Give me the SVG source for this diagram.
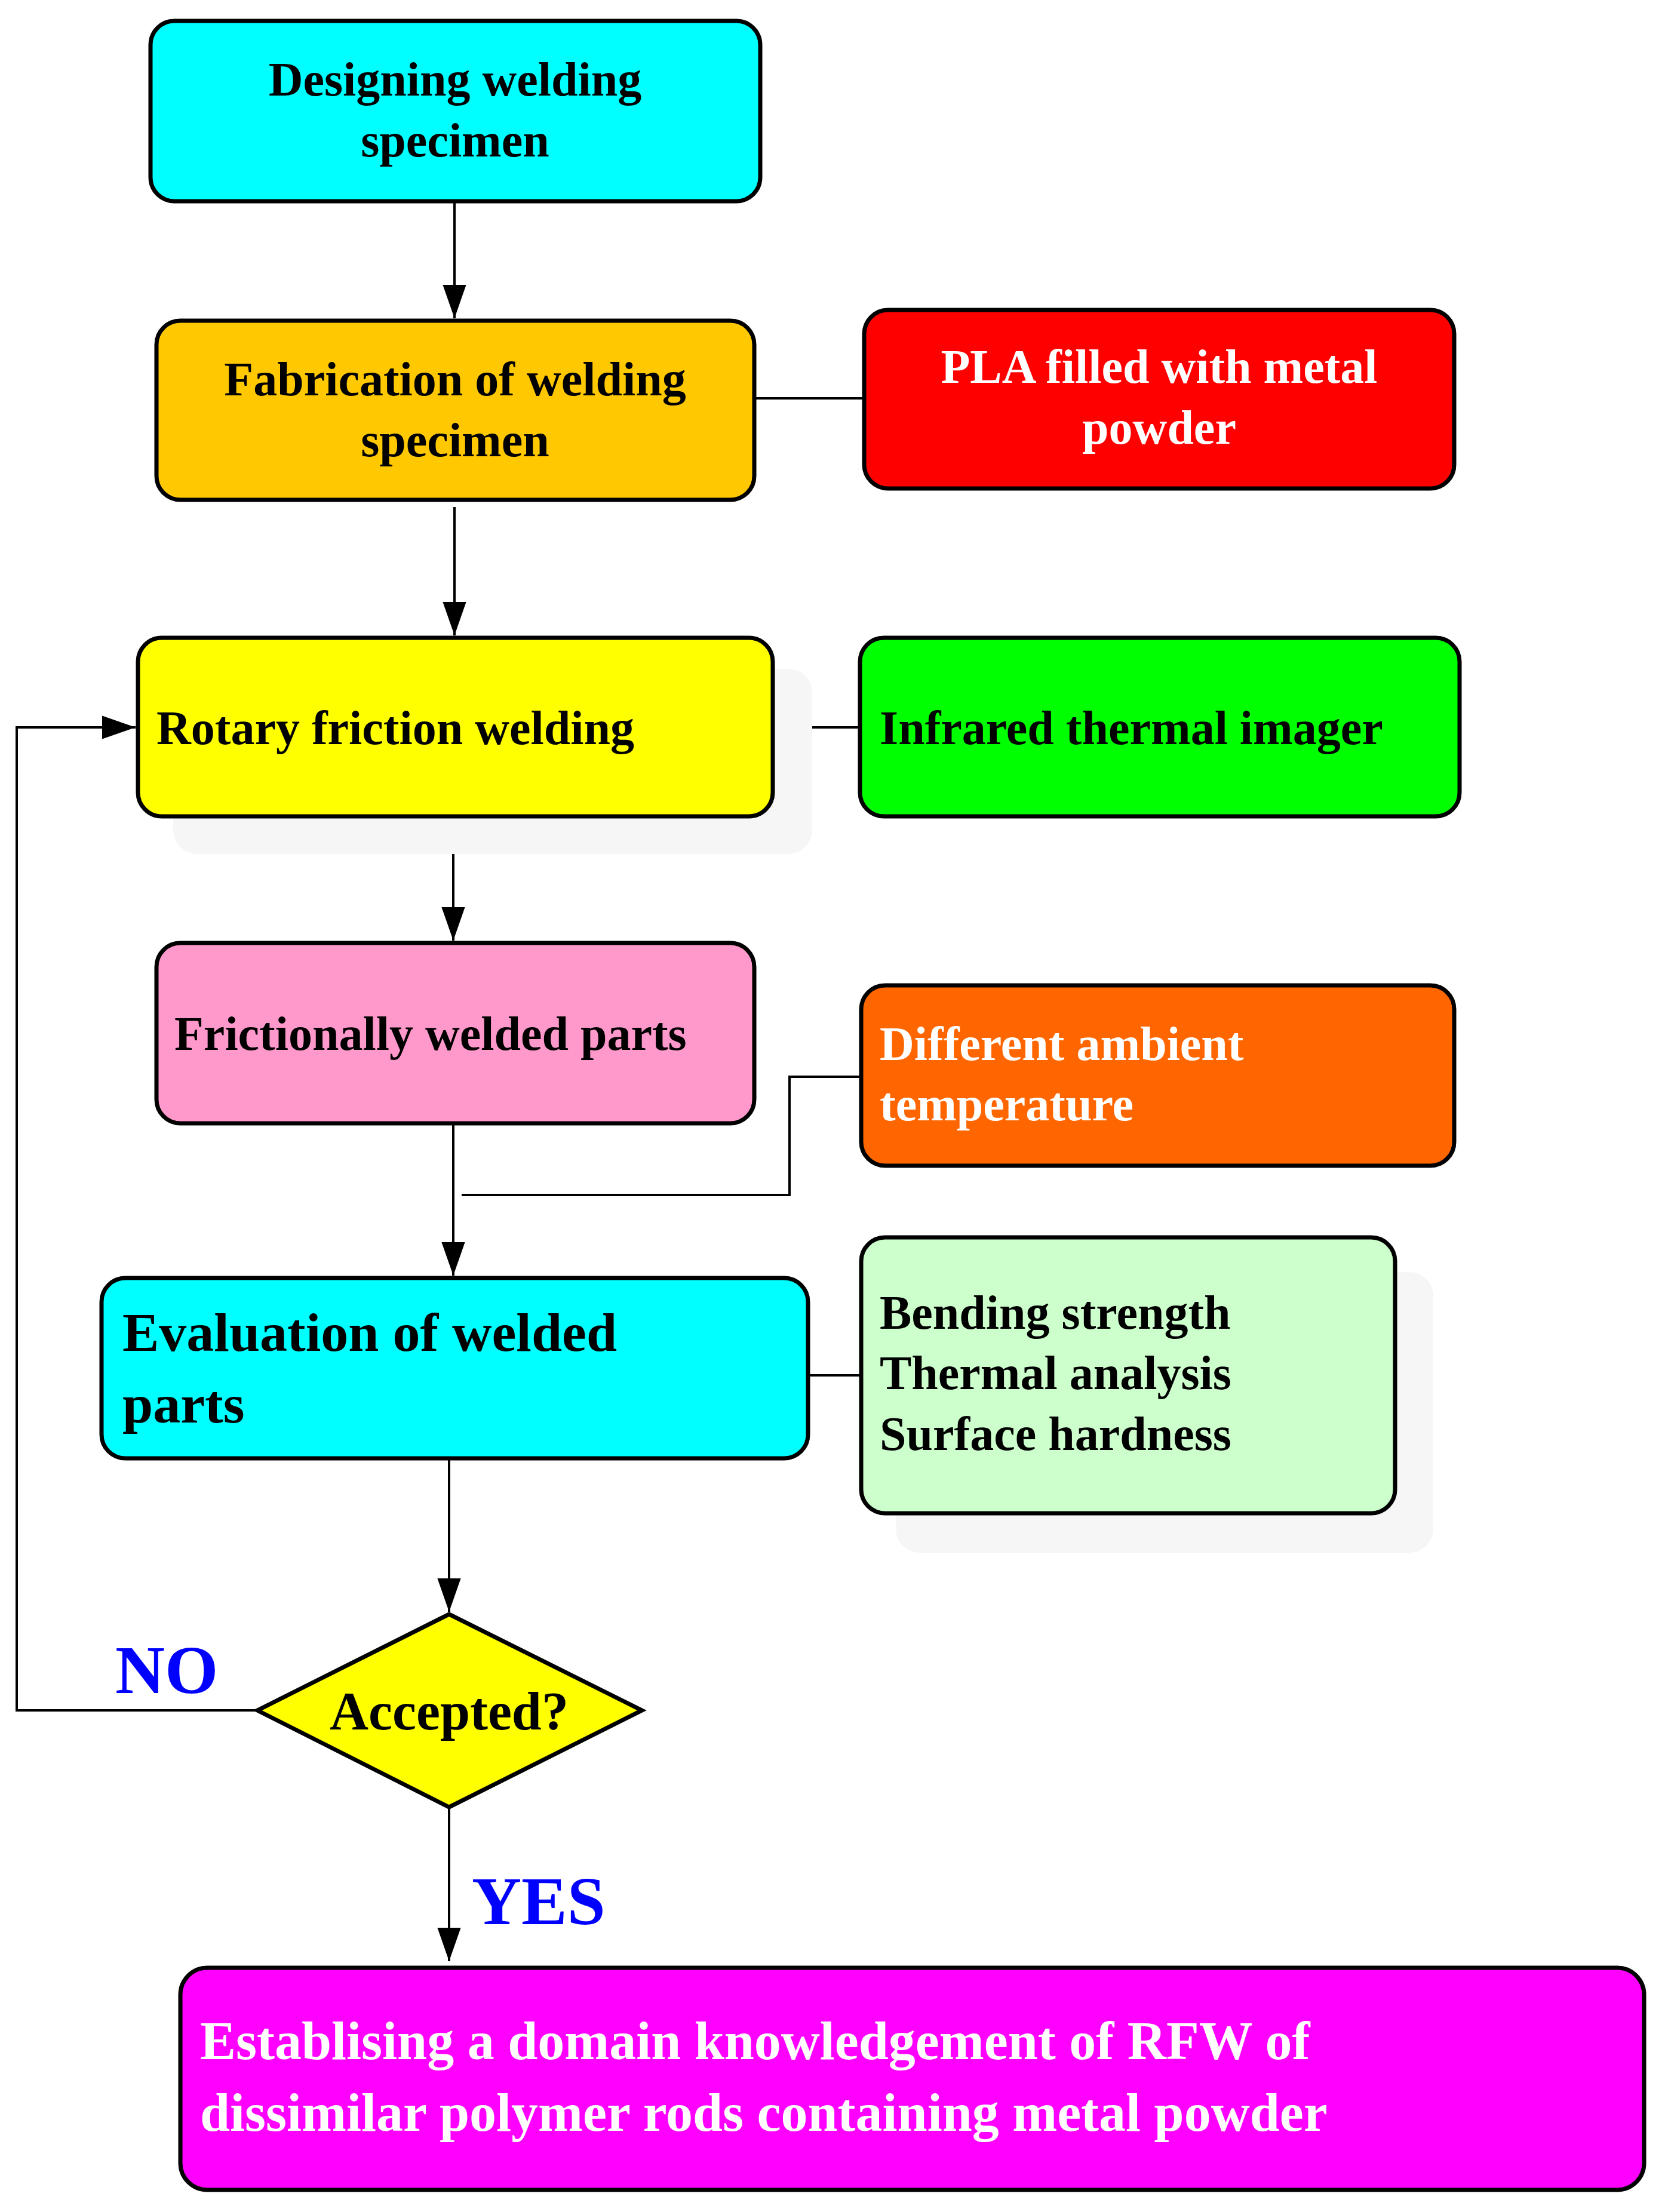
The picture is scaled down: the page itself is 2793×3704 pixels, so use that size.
<svg xmlns="http://www.w3.org/2000/svg" width="2793" height="3704" viewBox="0 0 2793 3704">
<defs>
<marker id="ah" viewBox="0 0 10 10" refX="10" refY="5" markerWidth="11" markerHeight="11" markerUnits="userSpaceOnUse" orient="auto"><path d="M0,0 L10,5 L0,10 z" fill="#000"/></marker>
<marker id="ah2" viewBox="0 0 10 10" refX="10" refY="5" markerWidth="14" markerHeight="14" orient="auto" markerUnits="strokeWidth"><path d="M0,1.5 L10,5 L0,8.5 z" fill="#000"/></marker>
</defs>
<style>
.b{stroke:#000;stroke-width:7}
.t{font-family:"Liberation Serif","Times New Roman",serif;font-weight:bold;font-size:80px}
.w{fill:#fff}
.c{stroke:#000;stroke-width:4;fill:none}
.sh{fill:#f6f6f6}
</style>
<rect width="2793" height="3704" fill="#fff"/>
<g id="connectors">
<line class="c" x1="761" y1="337" x2="761" y2="533" marker-end="url(#ah2)"/>
<line class="c" x1="761" y1="849" x2="761" y2="1064" marker-end="url(#ah2)"/>
<line class="c" x1="1263" y1="667" x2="1447" y2="667"/>
<line class="c" x1="1294" y1="1218" x2="1440" y2="1218"/>
<line class="c" x1="759" y1="1367" x2="759" y2="1575" marker-end="url(#ah2)"/>
<polyline class="c" points="1442,1803 1322,1803 1322,2001 773,2001"/>
<line class="c" x1="759" y1="1881" x2="759" y2="2136" marker-end="url(#ah2)"/>
<line class="c" x1="1353" y1="2303" x2="1442" y2="2303"/>
<line class="c" x1="752" y1="2442" x2="752" y2="2699" marker-end="url(#ah2)"/>
<polyline class="c" points="431,2864 28,2864 28,1218 227,1218" marker-end="url(#ah2)"/>
<line class="c" x1="752" y1="3026" x2="752" y2="3284" marker-end="url(#ah2)"/>
</g>
<g id="n1"><rect class="b" x="252" y="35" width="1021" height="302" rx="40" fill="#00ffff"/>
<text class="t" x="762" y="160" text-anchor="middle">Designing  welding</text>
<text class="t" x="762" y="262" text-anchor="middle">specimen</text></g>
<g id="n2"><rect class="b" x="262" y="537" width="1001" height="300" rx="40" fill="#ffc800"/>
<text class="t" x="762" y="662" text-anchor="middle">Fabrication of welding</text>
<text class="t" x="762" y="764" text-anchor="middle">specimen</text></g>
<g id="n3"><rect class="b" x="1447" y="519" width="988" height="299" rx="40" fill="#ff0000"/>
<text class="t w" x="1941" y="641" text-anchor="middle">PLA filled with metal</text>
<text class="t w" x="1941" y="743" text-anchor="middle">powder</text></g>
<g id="n4"><rect class="sh" x="290" y="1120" width="1070" height="310" rx="40"/>
<rect class="b" x="231" y="1068" width="1063" height="299" rx="40" fill="#ffff00"/>
<text class="t" x="262" y="1246">Rotary friction welding</text></g>
<g id="n5"><rect class="b" x="1440" y="1068" width="1004" height="299" rx="40" fill="#00ff00"/>
<text class="t" x="1473" y="1246">Infrared thermal imager</text></g>
<g id="n6"><rect class="b" x="262" y="1579" width="1001" height="302" rx="40" fill="#ff99cc"/>
<text class="t" x="292" y="1758">Frictionally welded parts</text></g>
<g id="n7"><rect class="b" x="1442" y="1650" width="993" height="302" rx="40" fill="#ff6600"/>
<text class="t w" x="1473" y="1775">Different ambient</text>
<text class="t w" x="1473" y="1876">temperature</text></g>
<g id="n8"><rect class="b" x="170" y="2140" width="1183" height="302" rx="40" fill="#00ffff"/>
<text class="t" x="205" y="2262" style="font-size:92px">Evaluation of welded</text>
<text class="t" x="205" y="2382" style="font-size:92px">parts</text></g>
<g id="n9"><rect class="sh" x="1500" y="2130" width="900" height="470" rx="40"/>
<rect class="b" x="1442" y="2072" width="894" height="462" rx="40" fill="#ccffcc"/>
<text class="t" x="1473" y="2225">Bending strength</text>
<text class="t" x="1473" y="2326">Thermal analysis</text>
<text class="t" x="1473" y="2428">Surface hardness</text></g>
<g id="n10"><polygon class="b" points="752,2703 1075,2864 752,3026 431,2864" fill="#ffff00"/>
<text class="t" x="752" y="2896" text-anchor="middle" style="font-size:90px">Accepted?</text></g>
<g id="labels">
<text class="t" x="193" y="2835" style="font-size:115px;fill:#0000ff">NO</text>
<text class="t" x="790" y="3222" style="font-size:115px;fill:#0000ff">YES</text>
</g>
<g id="n11"><rect class="b" x="302" y="3295" width="2451" height="372" rx="45" fill="#ff00ff"/>
<text class="t w" x="335" y="3448" style="font-size:90px">Establising a domain knowledgement  of RFW of</text>
<text class="t w" x="335" y="3568" style="font-size:90px">dissimilar polymer rods containing metal powder</text></g>
</svg>
